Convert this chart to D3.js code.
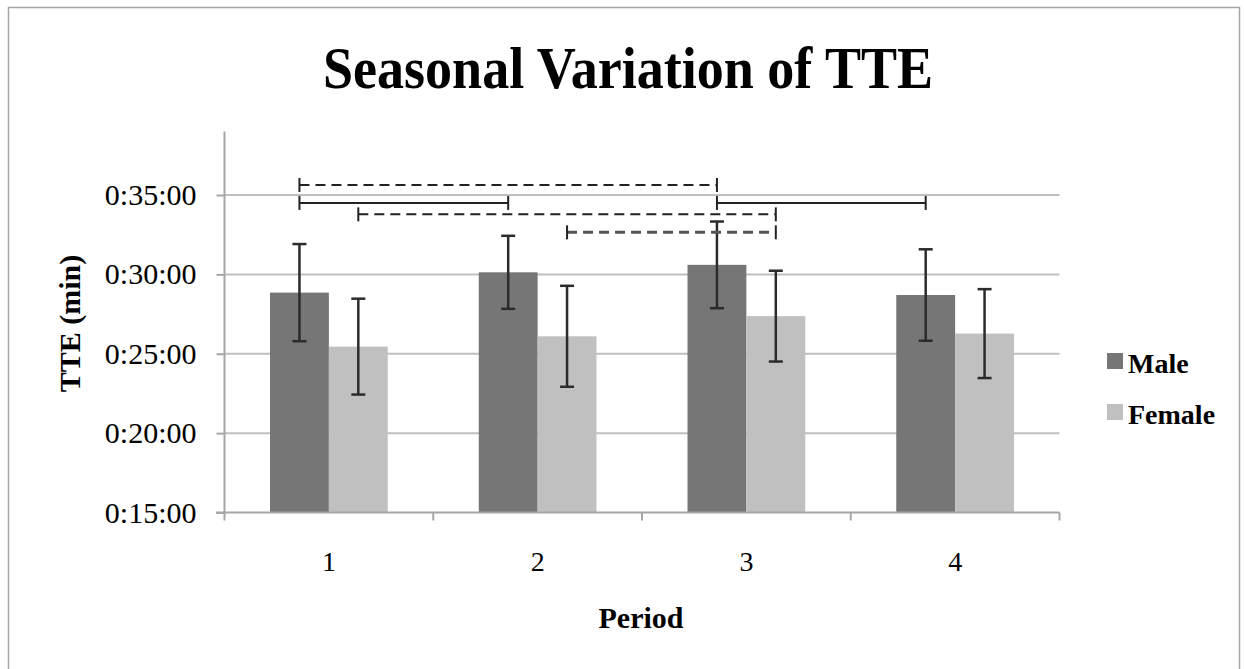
<!DOCTYPE html>
<html>
<head>
<meta charset="utf-8">
<script src="https://cdn.jsdelivr.net/npm/d3@7"></script>
<style>
  html, body { margin: 0; padding: 0; background: #fff; }
  svg { display: block; }
  text { font-family: "Liberation Serif", "Times New Roman", serif; fill: #000; }
</style>
</head>
<body>
<script>
// ---- data ----
const categories = ["1", "2", "3", "4"];
const seriesNames = ["Male", "Female"];
const maleMeans = [28.85, 30.13, 30.60, 28.70];     // minutes
const femaleMeans = [25.45, 26.10, 27.37, 26.27];
const maleSD = [3.06, 2.30, 2.73, 2.88];
const femaleSD = [3.02, 3.18, 2.86, 2.80];
const yTickValues = [15, 20, 25, 30, 35];
const yTickLabels = ["0:15:00", "0:20:00", "0:25:00", "0:30:00", "0:35:00"];
const compFrom = [["1", "Male"], ["1", "Male"], ["3", "Male"], ["1", "Female"], ["2", "Female"]];
const compTo = [["3", "Male"], ["2", "Male"], ["4", "Male"], ["3", "Female"], ["3", "Female"]];
const compLevel = [35.63, 34.5, 34.5, 33.78, 32.65];
const compStyle = ["dash", "solid", "solid", "dash", "dashBold"];

const W = 1244, H = 669;
const colors = { Male: "#767676", Female: "#c0c0c0" };

const svg = d3.select("body").append("svg").attr("width", W).attr("height", H);
svg.append("rect").attr("width", W).attr("height", H).attr("fill", "#fff");
// outer frame
svg.append("rect").attr("x", 8.5).attr("y", 7.5).attr("width", 1231).attr("height", 680)
  .attr("fill", "none").attr("stroke", "#a6a6a6").attr("stroke-width", 1.5);

const x0 = d3.scaleBand().domain(categories).range([224.5, 1059.5]).padding(0);
const bw = x0.bandwidth();
const x1 = d3.scaleBand().domain(seriesNames).range([bw * 0.218, bw * 0.782]).padding(0);
const y = d3.scaleLinear().domain([15, 39]).range([512.5, 131.5]);

const rows = categories.map((c, i) => ({
  cat: c,
  vals: [
    { s: "Male", v: maleMeans[i], sd: maleSD[i] },
    { s: "Female", v: femaleMeans[i], sd: femaleSD[i] }
  ]
}));

// gridlines
svg.append("g").selectAll("line").data(yTickValues.filter(d => d > 15)).join("line")
  .attr("x1", 224.5).attr("x2", 1059.5)
  .attr("y1", d => y(d)).attr("y2", d => y(d))
  .attr("stroke", "#bfbfbf").attr("stroke-width", 2);

// bars
const g = svg.append("g").selectAll("g").data(rows).join("g")
  .attr("transform", d => `translate(${x0(d.cat)},0)`);
g.selectAll("rect").data(d => d.vals).join("rect")
  .attr("x", d => x1(d.s)).attr("width", x1.bandwidth())
  .attr("y", d => y(d.v)).attr("height", d => y(15) - y(d.v))
  .attr("fill", d => colors[d.s]);

// error bars
const eb = g.selectAll("g.eb").data(d => d.vals).join("g").attr("class", "eb")
  .attr("stroke", "#2b2b2b").attr("stroke-width", 2.5);
eb.append("line")
  .attr("x1", d => x1(d.s) + x1.bandwidth() / 2).attr("x2", d => x1(d.s) + x1.bandwidth() / 2)
  .attr("y1", d => y(d.v + d.sd)).attr("y2", d => y(d.v - d.sd));
eb.append("line")
  .attr("x1", d => x1(d.s) + x1.bandwidth() / 2 - 7).attr("x2", d => x1(d.s) + x1.bandwidth() / 2 + 7)
  .attr("y1", d => y(d.v + d.sd)).attr("y2", d => y(d.v + d.sd));
eb.append("line")
  .attr("x1", d => x1(d.s) + x1.bandwidth() / 2 - 7).attr("x2", d => x1(d.s) + x1.bandwidth() / 2 + 7)
  .attr("y1", d => y(d.v - d.sd)).attr("y2", d => y(d.v - d.sd));

// y axis
const yAxis = d3.axisLeft(y).tickValues(yTickValues)
  .tickFormat((d, i) => yTickLabels[i]).tickSize(8).tickPadding(20);
const ya = svg.append("g").attr("transform", "translate(224.5,0)").call(yAxis);
ya.select(".domain").remove();
ya.append("line").attr("x1", 0).attr("x2", 0).attr("y1", y(39)).attr("y2", y(15) + 8)
  .attr("stroke", "#a6a6a6").attr("stroke-width", 2);
ya.selectAll(".tick line").attr("stroke", "#a6a6a6").attr("stroke-width", 2);
ya.selectAll(".tick text").attr("font-size", 30).attr("fill", "#000")
  .attr("font-family", "Liberation Serif, Times New Roman, serif");

// x axis
const xa = svg.append("g").attr("transform", `translate(0,${y(15)})`);
xa.append("line").attr("x1", 216).attr("x2", 1059.5).attr("y1", 0).attr("y2", 0)
  .attr("stroke", "#a6a6a6").attr("stroke-width", 2);
const boundaries = categories.map(c => x0(c) + bw);
xa.selectAll("line.b").data(boundaries).join("line").attr("class", "b")
  .attr("x1", d => d).attr("x2", d => d).attr("y1", 0).attr("y2", 8)
  .attr("stroke", "#a6a6a6").attr("stroke-width", 2);
xa.selectAll("text").data(categories).join("text")
  .attr("x", d => x0(d) + bw / 2).attr("y", 58)
  .attr("text-anchor", "middle").attr("font-size", 28).text(d => d);

// significance brackets
const bx = (p) => x0(p[0]) + x1(p[1]) + x1.bandwidth() / 2;
const comps = compFrom.map((f, i) => ({ f, t: compTo[i], lv: compLevel[i], st: compStyle[i] }));
const br = svg.append("g").selectAll("g").data(comps).join("g")
  .attr("stroke", d => d.st === "dashBold" ? "#555" : "#222")
  .attr("stroke-width", d => d.st === "dashBold" ? 3 : 2);
br.append("line")
  .attr("x1", d => bx(d.f)).attr("x2", d => bx(d.t))
  .attr("y1", d => y(d.lv)).attr("y2", d => y(d.lv))
  .attr("stroke-dasharray", d => d.st === "solid" ? null : "10,6");
br.append("line")
  .attr("x1", d => bx(d.f)).attr("x2", d => bx(d.f))
  .attr("y1", d => y(d.lv) - 7).attr("y2", d => y(d.lv) + 7).attr("stroke", "#222").attr("stroke-width", 2);
br.append("line")
  .attr("x1", d => bx(d.t)).attr("x2", d => bx(d.t))
  .attr("y1", d => y(d.lv) - 7).attr("y2", d => y(d.lv) + 7).attr("stroke", "#222").attr("stroke-width", 2);

// title
svg.append("text").attr("x", 628).attr("y", 88).attr("text-anchor", "middle")
  .attr("font-size", 59).attr("font-weight", "bold")
  .attr("textLength", 610).attr("lengthAdjust", "spacingAndGlyphs")
  .text("Seasonal Variation of TTE");

// axis titles
svg.append("text").attr("transform", "translate(80,323.5) rotate(-90)")
  .attr("text-anchor", "middle").attr("font-size", 30).attr("font-weight", "bold").text("TTE (min)");
svg.append("text").attr("x", 641).attr("y", 628).attr("text-anchor", "middle")
  .attr("font-size", 30).attr("font-weight", "bold").text("Period");

// legend
const lg = svg.append("g").selectAll("g").data(seriesNames).join("g")
  .attr("transform", (d, i) => `translate(1107,${353 + i * 51})`);
lg.append("rect").attr("width", 16).attr("height", 16).attr("fill", d => colors[d]);
lg.append("text").attr("x", 21).attr("y", 19.5).attr("font-size", 28).attr("font-weight", "bold").text(d => d);
</script>
</body>
</html>
